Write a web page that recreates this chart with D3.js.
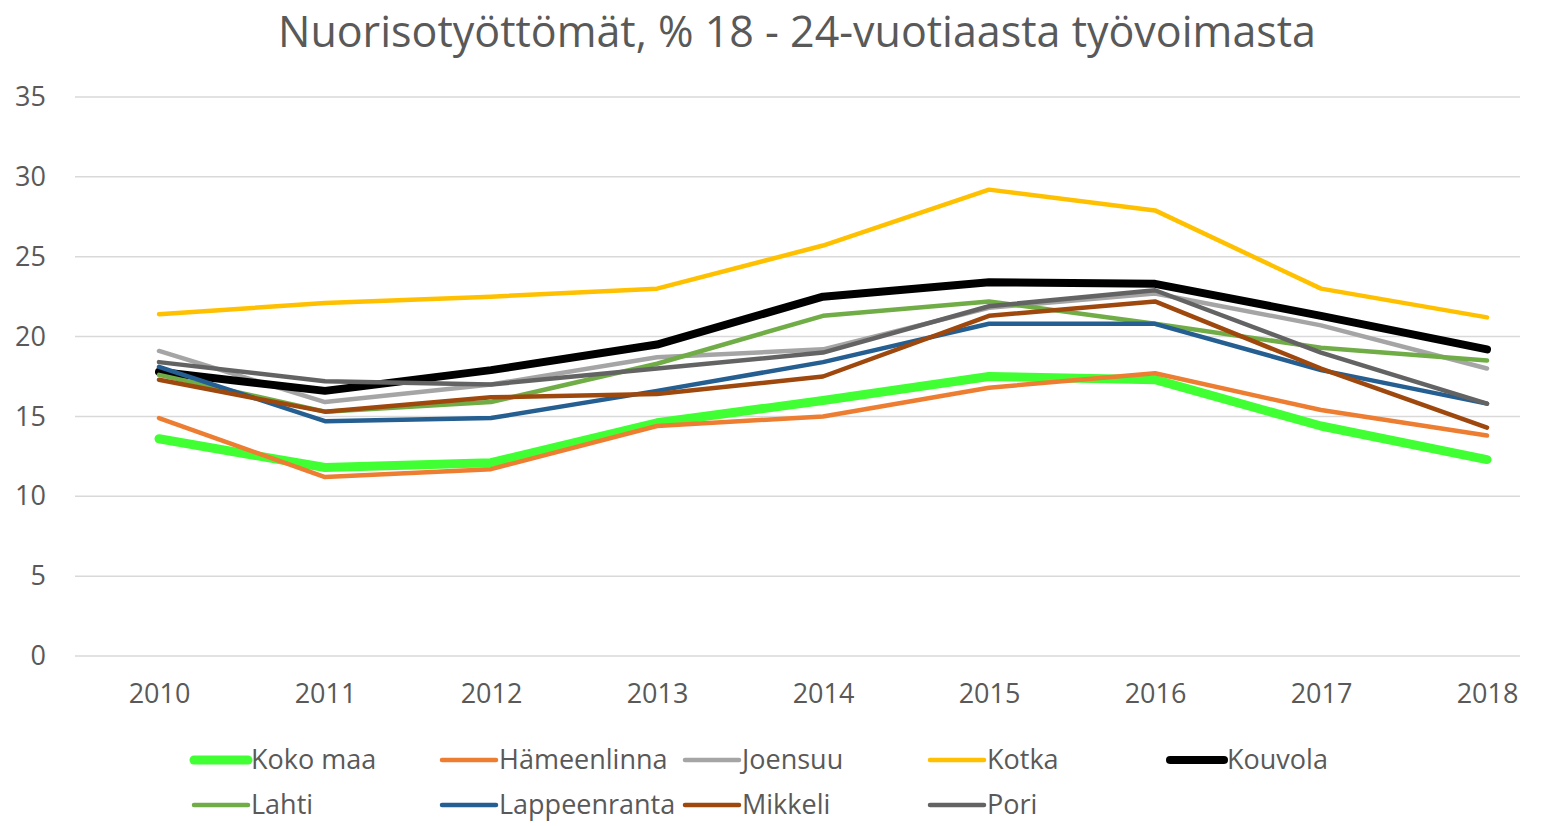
<!DOCTYPE html>
<html>
<head>
<meta charset="utf-8">
<script src="https://cdn.jsdelivr.net/npm/d3@7"></script>
<style>
  body { margin: 0; background: #fff; }
  svg { display: block; font-family: "Open Sans", "Liberation Sans", sans-serif; }
</style>
</head>
<body>
<svg id="chart" width="1547" height="826"></svg>
<script>
var years = [2010, 2011, 2012, 2013, 2014, 2015, 2016, 2017, 2018];
var seriesNames = ["Koko maa", "Hämeenlinna", "Joensuu", "Kotka", "Kouvola", "Lahti", "Lappeenranta", "Mikkeli", "Pori"];
var kokoMaa      = [13.6, 11.8, 12.1, 14.6, 16.0, 17.5, 17.3, 14.4, 12.3];
var hameenlinna  = [14.9, 11.2, 11.7, 14.4, 15.0, 16.8, 17.7, 15.4, 13.8];
var joensuu      = [19.1, 15.9, 17.0, 18.7, 19.2, 21.8, 22.7, 20.7, 18.0];
var kotka        = [21.4, 22.1, 22.5, 23.0, 25.7, 29.2, 27.9, 23.0, 21.2];
var kouvola      = [17.8, 16.6, 17.9, 19.5, 22.5, 23.4, 23.3, 21.3, 19.2];
var lahti        = [17.6, 15.3, 15.9, 18.3, 21.3, 22.2, 20.8, 19.3, 18.5];
var lappeenranta = [18.1, 14.7, 14.9, 16.6, 18.4, 20.8, 20.8, 17.9, 15.8];
var mikkeli      = [17.3, 15.3, 16.2, 16.4, 17.5, 21.3, 22.2, 18.0, 14.3];
var pori         = [18.4, 17.2, 17.0, 18.0, 19.0, 21.9, 22.9, 19.0, 15.8];
var yTicks = [0, 5, 10, 15, 20, 25, 30, 35];

var seriesValues = [kokoMaa, hameenlinna, joensuu, kotka, kouvola, lahti, lappeenranta, mikkeli, pori];
var colors = ["#40FF33", "#ED7D31", "#A5A5A5", "#FFC000", "#000000", "#70AD47", "#255E91", "#9E480E", "#636363"];
var widths = [9, 4.5, 4.5, 4.5, 8, 4.5, 4.5, 4.5, 4.5];

var svg = d3.select("#chart");
var margin = { left: 75, right: 27, top: 97, bottom: 170 };
var width = +svg.attr("width"), height = +svg.attr("height");

var x = d3.scalePoint()
    .domain(years)
    .range([159, 1487]);
var y = d3.scaleLinear()
    .domain([0, 35])
    .range([656, 97]);

// title
svg.append("text")
    .attr("x", 797)
    .attr("y", 47)
    .attr("text-anchor", "middle")
    .style("font-size", "43px")
    .style("fill", "#595959")
    .text("Nuorisotyöttömät, % 18 - 24-vuotiaasta työvoimasta");

// gridlines
svg.append("g")
    .selectAll("line")
    .data(yTicks)
    .join("line")
    .attr("x1", margin.left)
    .attr("x2", width - margin.right)
    .attr("y1", d => y(d))
    .attr("y2", d => y(d))
    .attr("stroke", "#D9D9D9")
    .attr("stroke-width", 1.5);

// y axis labels
var yAxis = d3.axisLeft(y).tickValues(yTicks).tickSize(0).tickPadding(0);
svg.append("g")
    .attr("transform", "translate(46,0)")
    .call(yAxis)
    .call(g => g.select(".domain").remove())
    .call(g => g.selectAll("text")
        .style("font-size", "27px")
        .style("font-family", "'Open Sans', sans-serif")
        .style("fill", "#595959"));

// x axis labels
var xAxis = d3.axisBottom(x).tickSize(0).tickPadding(0);
svg.append("g")
    .attr("transform", "translate(0,684)")
    .call(xAxis)
    .call(g => g.select(".domain").remove())
    .call(g => g.selectAll("text")
        .style("font-size", "27px")
        .style("font-family", "'Open Sans', sans-serif")
        .style("fill", "#595959"));

// lines
var line = d3.line()
    .x((d, i) => x(years[i]))
    .y(d => y(d));

svg.append("g")
    .selectAll("path")
    .data(seriesValues)
    .join("path")
    .attr("d", d => line(d))
    .attr("fill", "none")
    .attr("stroke", (d, i) => colors[i])
    .attr("stroke-width", (d, i) => widths[i])
    .attr("stroke-linejoin", "round")
    .attr("stroke-linecap", "round");

// legend (second row nudged up so its text stays inside the picture)
var legendX = [192, 440, 683, 928, 1168];
var legendItems = seriesNames.map((name, i) => ({
    name: name,
    color: colors[i],
    w: widths[i],
    lx: legendX[i < 5 ? i : i - 5],
    ly: i < 5 ? 760 : 805
}));

var legend = svg.append("g")
    .selectAll("g")
    .data(legendItems)
    .join("g")
    .attr("transform", d => `translate(${d.lx},${d.ly})`);

legend.append("line")
    .attr("x1", 2)
    .attr("x2", 56)
    .attr("stroke", d => d.color)
    .attr("stroke-width", d => d.w)
    .attr("stroke-linecap", "round");

legend.append("text")
    .attr("x", 59)
    .attr("dy", "0.35em")
    .style("font-size", "27px")
    .style("fill", "#595959")
    .text(d => d.name);
</script>
</body>
</html>
